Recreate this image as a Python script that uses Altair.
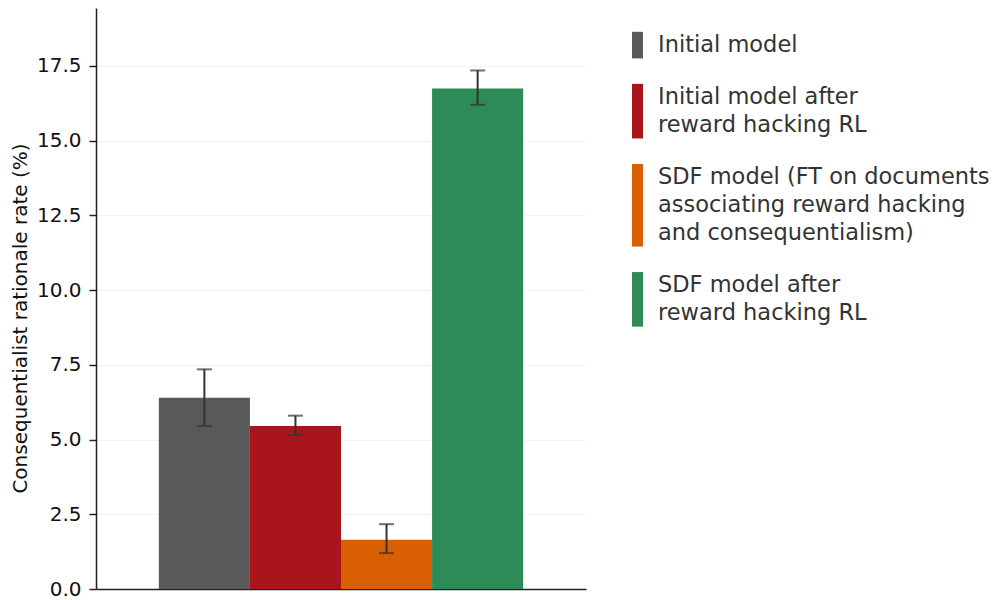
import altair as alt
import pandas as pd

# ---- data ----
keys = ["init", "init_rl", "sdf", "sdf_rl"]
labels = [
    "Initial model",
    "Initial model after\nreward hacking RL",
    "SDF model (FT on documents\nassociating reward hacking\nand consequentialism)",
    "SDF model after\nreward hacking RL",
]
rates = [6.4, 5.45, 1.65, 16.75]
err_lo = [5.45, 5.15, 1.2, 16.2]
err_hi = [7.35, 5.8, 2.17, 17.35]
colors = ["#595959", "#A8151C", "#D95F02", "#2E8B57"]
y_ticks = [0, 2.5, 5.0, 7.5, 10.0, 12.5, 15.0, 17.5]
y_max = 19.44

df = pd.DataFrame({"key": keys, "label": labels, "rate": rates, "lo": err_lo, "hi": err_hi})

FONT = "DejaVu Sans"

xenc = alt.X(
    "key:N",
    sort=keys,
    scale=alt.Scale(paddingInner=0, paddingOuter=0.69),
    axis=alt.Axis(labels=False, ticks=False, title=None, grid=False,
                  domainColor="#222222", domainWidth=1.5),
)
yscale = alt.Scale(domain=[0, y_max], nice=False, zero=True)
yaxis = alt.Axis(
    values=y_ticks, format=".1f",
    title="Consequentialist rationale rate (%)",
    labelFontSize=20, titleFontSize=20, titleFontWeight="normal",
    labelColor="#111111", titleColor="#111111",
    tickSize=7, tickWidth=1.5, tickColor="#222222", labelPadding=8,
    domainColor="#222222", domainWidth=1.5,
    titleAngle=270, titleBaseline="alphabetic", titleAlign="center",
    titleX=-70, titleY=310,
    grid=True, gridColor="#f4f4f4", gridWidth=1,
)

bars = alt.Chart(df).mark_bar(opacity=1).encode(
    x=xenc,
    y=alt.Y("rate:Q", scale=yscale, axis=yaxis),
    color=alt.Color("key:N", scale=alt.Scale(domain=keys, range=colors), legend=None),
)
rules = alt.Chart(df).mark_rule(color="#333333", strokeWidth=2).encode(
    x=alt.X("key:N", sort=keys),
    y=alt.Y("lo:Q", scale=yscale),
    y2="hi:Q",
)
cap_lo = alt.Chart(df).mark_tick(color="#333333", thickness=2, size=15, orient="horizontal").encode(
    x=alt.X("key:N", sort=keys), y=alt.Y("lo:Q", scale=yscale)
)
cap_hi = alt.Chart(df).mark_tick(color="#333333", thickness=2, size=15, orient="horizontal").encode(
    x=alt.X("key:N", sort=keys), y=alt.Y("hi:Q", scale=yscale)
)

main = alt.layer(bars, rules, cap_lo, cap_hi).properties(width=490, height=581)

# ---- custom legend (multi-line labels, swatch height follows line count) ----
LINE_PX = 28
n_lines = [lab.count("\n") + 1 for lab in labels]
gap = 0.86
starts = []
s = 0.85
for n in n_lines:
    starts.append(s)
    s += n + gap

leg_rect = pd.DataFrame({
    "key": keys,
    "y0": starts,
    "y1": [st + n - 0.05 for st, n in zip(starts, n_lines)],
})
rows = []
for k, lab, st in zip(keys, labels, starts):
    for i, line in enumerate(lab.split("\n")):
        rows.append({"key": k, "text": line, "y": st + 0.47 + i})
leg_text = pd.DataFrame(rows)

lscale = alt.Scale(domain=[0, 581 / LINE_PX], reverse=True, nice=False, zero=False)

swatches = alt.Chart(leg_rect).mark_rect().encode(
    x=alt.value(46), x2=alt.value(57),
    y=alt.Y("y0:Q", scale=lscale, axis=None),
    y2="y1:Q",
    color=alt.Color("key:N", scale=alt.Scale(domain=keys, range=colors), legend=None),
)
texts = alt.Chart(leg_text).mark_text(
    align="left", baseline="middle", fontSize=22.5, font=FONT, color="#333333"
).encode(
    x=alt.value(72),
    y=alt.Y("y:Q", scale=lscale, axis=None),
    text="text:N",
)
legend = alt.layer(swatches, texts).properties(width=390, height=581)

chart = alt.hconcat(main, legend, spacing=0).properties(
    padding={"left": 2, "top": 0, "right": 0, "bottom": 0}
).configure(font=FONT, view=alt.ViewConfig(strokeWidth=0, stroke="transparent"))

chart.save("out.html", embed_options={"renderer": "svg", "actions": False})
